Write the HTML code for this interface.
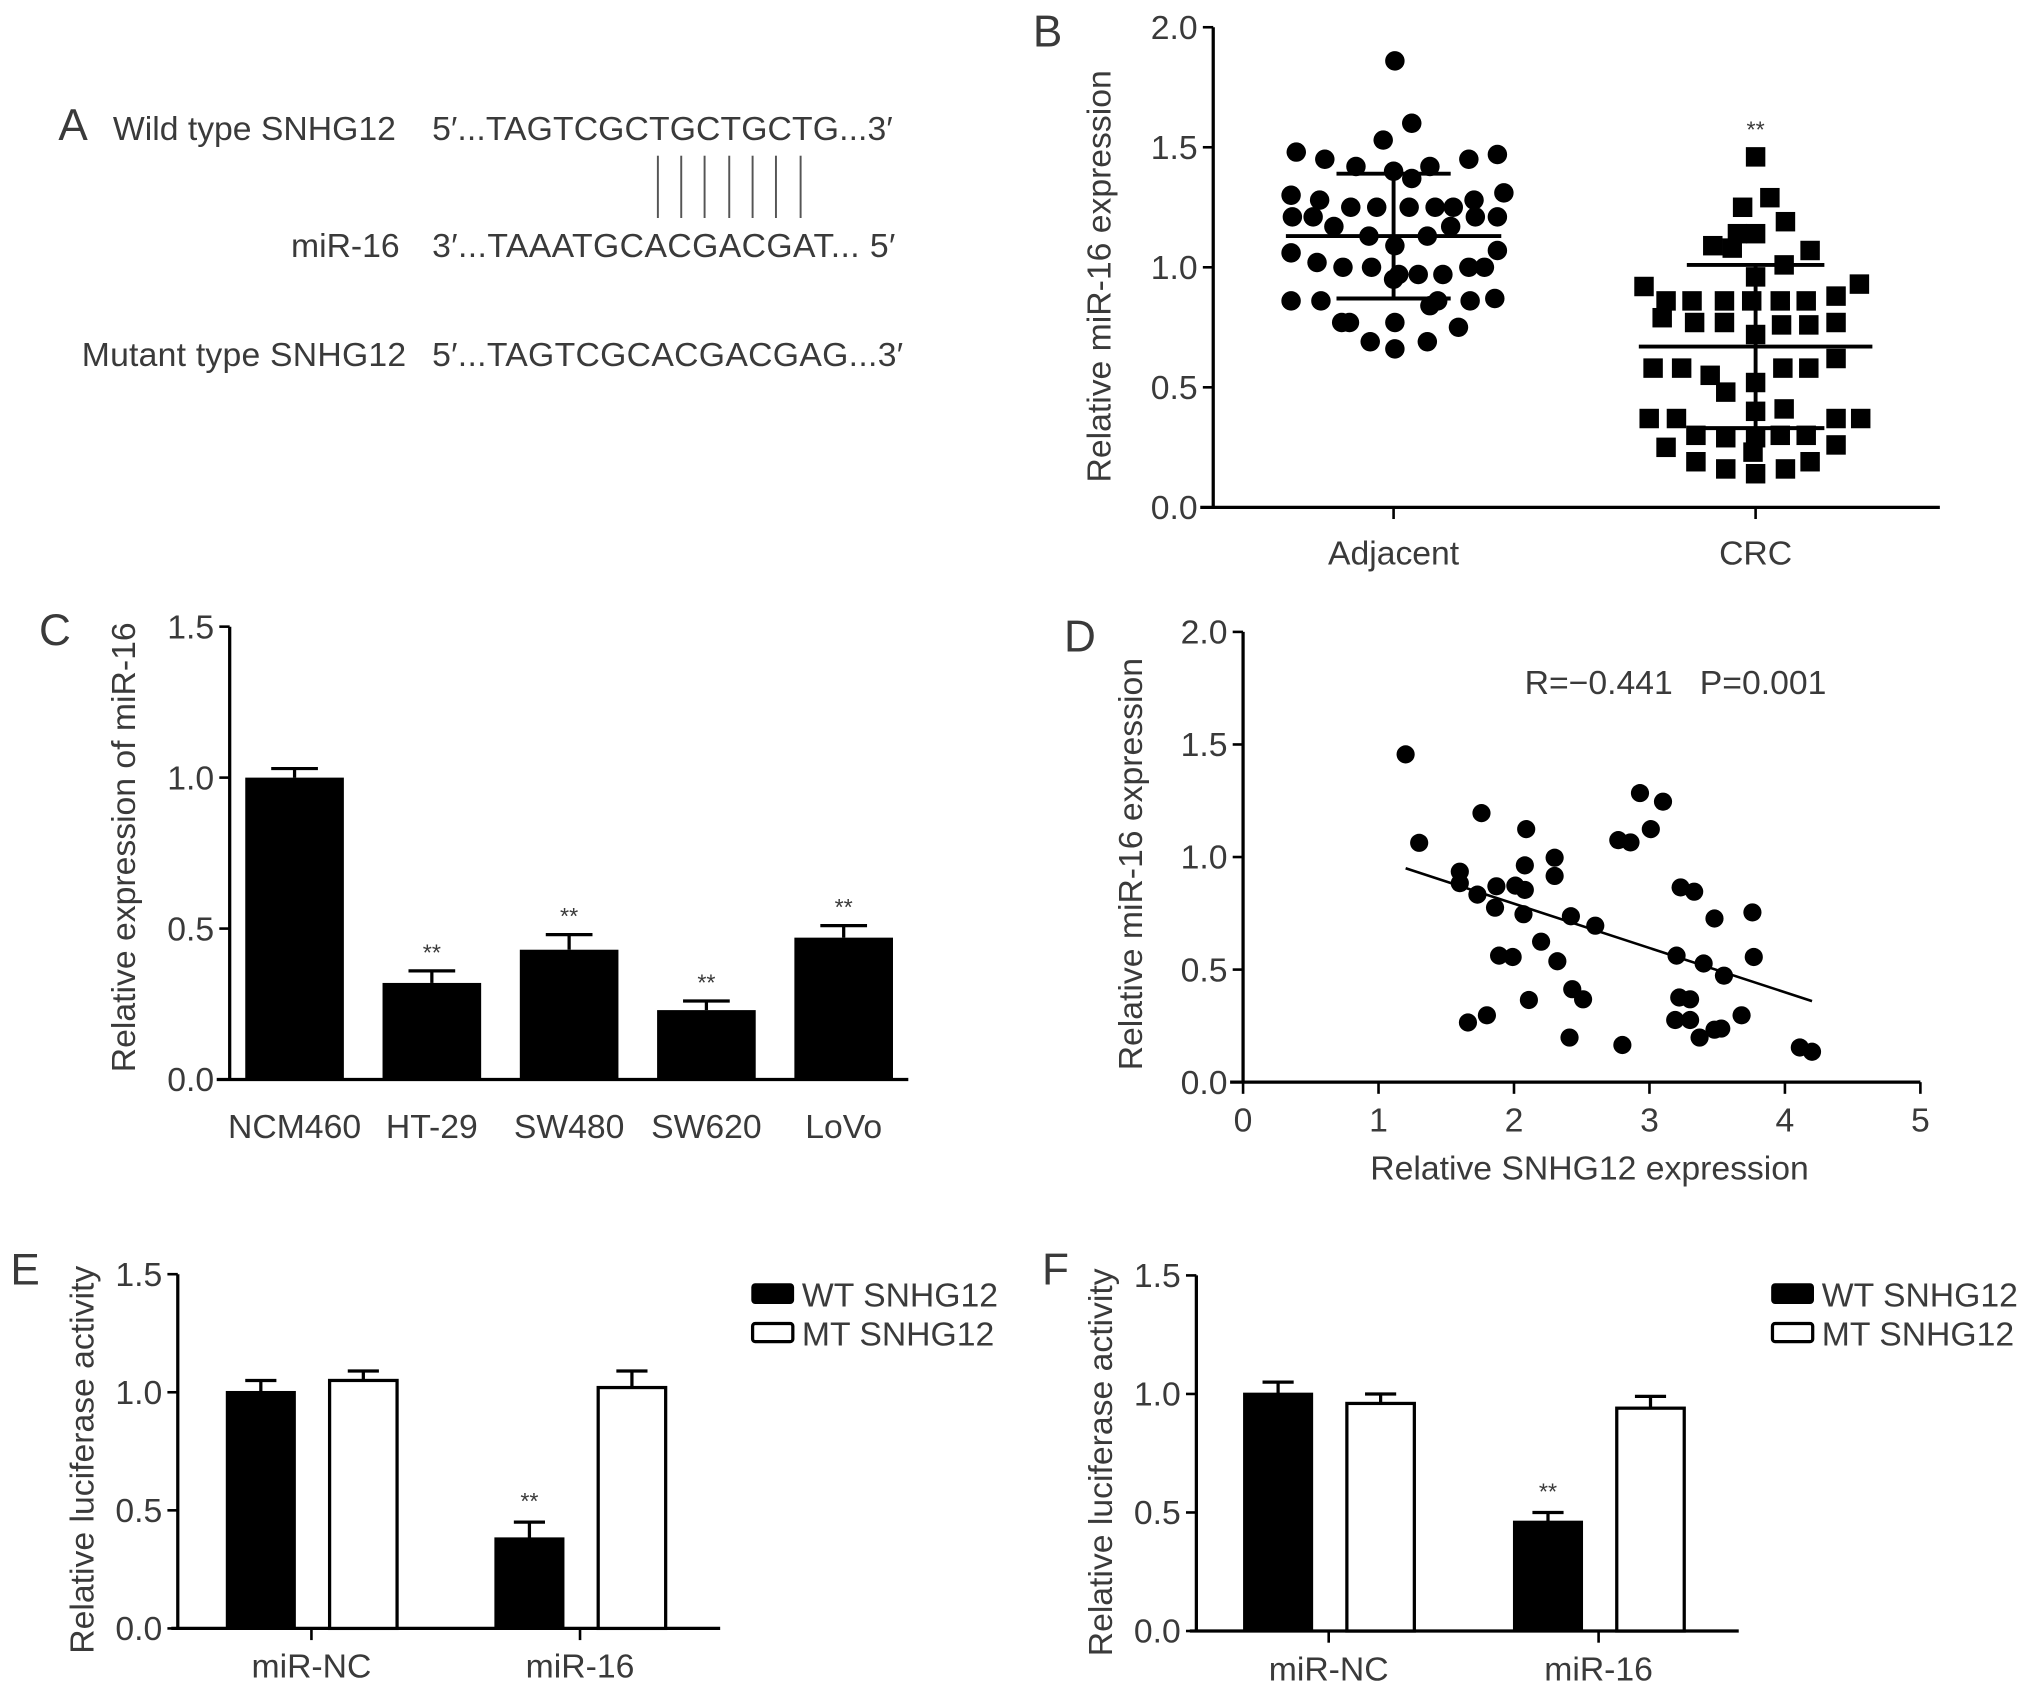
<!DOCTYPE html>
<html><head><meta charset="utf-8"><style>
html,body{margin:0;padding:0;background:#fff;}
svg{display:block;}
text{font-family:"Liberation Sans",sans-serif;fill:#3a3a3a;}
</style></head><body>
<svg id="fig" xmlns="http://www.w3.org/2000/svg" width="2032" height="1692" viewBox="0 0 1566 1304">
<rect width="1566" height="1304" fill="#fff"/>
<!-- Panel A -->
<g font-size="26">
<text x="45" y="108" font-size="34">A</text>
<text x="87" y="108">Wild type SNHG12</text>
<text x="333" y="108" textLength="355">5′...TAGTCGCTGCTGCTG...3′</text>
<g stroke="#555" stroke-width="1.5">
<line x1="507" y1="120" x2="507" y2="168"/><line x1="525" y1="120" x2="525" y2="168"/><line x1="543" y1="120" x2="543" y2="168"/><line x1="562" y1="120" x2="562" y2="168"/><line x1="580" y1="120" x2="580" y2="168"/><line x1="598" y1="120" x2="598" y2="168"/><line x1="617" y1="120" x2="617" y2="168"/>
</g>
<text x="308" y="198" text-anchor="end">miR-16</text>
<text x="333" y="198" textLength="357">3′...TAAATGCACGACGAT... 5′</text>
<text x="63" y="282" textLength="250">Mutant type SNHG12</text>
<text x="333" y="282" textLength="363">5′...TAGTCGCACGACGAG...3′</text>
</g>
<!-- static labels -->
<text x="796" y="36" font-size="34">B</text>
<text x="30" y="497" font-size="34">C</text>
<text x="820" y="502" font-size="34">D</text>
<text x="8" y="990" font-size="34">E</text>
<text x="803" y="990" font-size="34">F</text>
<text transform="translate(856,213) rotate(-90)" text-anchor="middle" font-size="26">Relative miR-16 expression</text>
<text transform="translate(104,653) rotate(-90)" text-anchor="middle" font-size="26">Relative expression of miR-16</text>
<text transform="translate(880,666) rotate(-90)" text-anchor="middle" font-size="26">Relative miR-16 expression</text>
<text x="1225" y="909" text-anchor="middle" font-size="26">Relative SNHG12 expression</text>
<text x="1175" y="535" font-size="26">R=−0.441</text>
<text x="1310" y="535" font-size="26">P=0.001</text>
<text transform="translate(72,1125) rotate(-90)" text-anchor="middle" font-size="26">Relative luciferase activity</text>
<text transform="translate(857,1127) rotate(-90)" text-anchor="middle" font-size="26">Relative luciferase activity</text>
<g id="dyn"></g>
</svg>
<script>
// ---- data ----
const bAdjValues=[1.86,1.60,1.53,1.48,1.47,1.45,1.45,1.42,1.42,1.40,1.37,1.30,1.31,1.28,1.28,1.25,1.25,1.25,1.25,1.25,1.21,1.21,1.21,1.21,1.17,1.17,1.13,1.13,1.09,1.06,1.07,1.02,1.00,1.00,1.00,1.00,0.97,0.97,0.97,0.95,0.86,0.86,0.86,0.86,0.87,0.84,0.77,0.77,0.77,0.75,0.69,0.69,0.66];
const bAdjJitter=[1,14,-8,-75,80,-53,58,-29,28,0,14,-79,85,-57,62,-33,-13,12,32,46,-78,80,-62,63,-46,44,-19,26,1,-79,80,-59,-39,-17,58,70,4,19,38,0,-79,-56,34,59,78,28,-40,-34,1,50,-18,26,1];
const bCrcValues=[1.46,1.29,1.25,1.19,1.14,1.14,1.09,1.08,1.07,1.01,0.96,0.92,0.93,0.88,0.86,0.86,0.86,0.86,0.86,0.86,0.79,0.77,0.77,0.76,0.76,0.77,0.72,0.62,0.58,0.58,0.58,0.58,0.55,0.52,0.48,0.40,0.41,0.37,0.37,0.37,0.37,0.30,0.29,0.29,0.30,0.30,0.25,0.26,0.19,0.16,0.14,0.16,0.19,0.23];
const bCrcJitter=[0,11,-10,23,-14,0,-33,-18,42,22,0,-86,80,62,-69,-49,-24,-3,19,39,-72,-47,-24,20,41,62,0,62,-79,-57,21,41,-35,0,-23,0,22,-82,-61,62,81,-46,-23,0,19,39,-69,62,-46,-23,0,23,42,-2];
const bMeans=[1.13,0.67];
const bSD=[0.26,0.34];
const cCategories=['NCM460','HT-29','SW480','SW620','LoVo'];
const cValues=[1.00,0.32,0.43,0.23,0.47];
const cErrors=[0.03,0.04,0.05,0.03,0.04];
const cSig=['','**','**','**','**'];
const dX=[1.20,1.30,1.76,2.09,1.60,1.60,1.73,1.87,1.86,2.01,2.08,2.08,2.07,2.30,2.30,2.42,2.60,2.20,2.32,1.89,1.99,2.11,2.43,2.51,1.66,1.80,2.41,2.80,2.77,2.86,2.93,3.10,3.01,3.23,3.33,3.48,3.76,3.20,3.40,3.55,3.77,3.22,3.30,3.19,3.30,3.68,3.37,3.48,3.53,4.11,4.20];
const dY=[1.456,1.063,1.195,1.124,0.935,0.884,0.833,0.870,0.775,0.873,0.854,0.963,0.746,0.997,0.916,0.737,0.695,0.624,0.537,0.562,0.556,0.365,0.413,0.368,0.265,0.297,0.198,0.165,1.075,1.065,1.284,1.246,1.124,0.865,0.846,0.727,0.754,0.562,0.527,0.473,0.556,0.376,0.368,0.276,0.276,0.297,0.198,0.233,0.238,0.154,0.135];
const dFit=[[1.2,0.95],[4.2,0.36]];
const lucGroups=['miR-NC','miR-16'];
const eWT=[1.00,0.38], eWTerr=[0.05,0.07], eMT=[1.05,1.02], eMTerr=[0.04,0.07];
const fWT=[1.00,0.46], fWTerr=[0.05,0.04], fMT=[0.96,0.94], fMTerr=[0.04,0.05];
const yTicks15=[0,0.5,1.0,1.5];
const yTicks20=[0,0.5,1.0,1.5,2.0];
const dXTicks=[0,1,2,3,4,5];

const NS='http://www.w3.org/2000/svg';
const root=document.getElementById('dyn');
function mk(tag,attrs,txt){const e=document.createElementNS(NS,tag);for(const k in attrs)e.setAttribute(k,attrs[k]);if(txt!==undefined)e.textContent=txt;root.appendChild(e);return e;}

function yAxis(x,y0,y1,scale,ticks,prefix){
  let a=mk('line',{x1:x,y1:y0,x2:x,y2:y1,stroke:'#000','stroke-width':2.5});
  
  
  ticks.forEach(t=>{
    const y=scale(t);
    let tk=mk('line',{x1:x-8,y1:y,x2:x,y2:y,stroke:'#000','stroke-width':2});
    
    
    let lb=mk('text',{x:x-12,y:y+9,'text-anchor':'end','font-size':26},t.toFixed(1));
    
    
  });
}
function xAxis(x0,x1,y,prefix){
  let a=mk('line',{x1:x0,y1:y,x2:x1,y2:y,stroke:'#000','stroke-width':2.5});
  
  
}
function errBar(cx,yTop,yErr,hw,prefix){
  let l=mk('line',{x1:cx,y1:yTop,x2:cx,y2:yErr,stroke:'#000','stroke-width':2.5});
  
  
  let c=mk('line',{x1:cx-hw,y1:yErr,x2:cx+hw,y2:yErr,stroke:'#000','stroke-width':2.5});
  
  
}

// ---- Panel B ----
const yB=v=>391-v*185;
yAxis(935,391,21,yB,yTicks20,'b');
xAxis(925,1495,391,'b');
const bCenters=[1074,1353];
['Adjacent','CRC'].forEach((c,i)=>{
  let t=mk('line',{x1:bCenters[i],y1:391,x2:bCenters[i],y2:400,stroke:'#000','stroke-width':2});
  
  
  let l=mk('text',{x:bCenters[i],y:435,'text-anchor':'middle','font-size':26},c);
  
  
});
bAdjValues.forEach((v,i)=>{
  let p=mk('circle',{cx:bCenters[0]+bAdjJitter[i],cy:yB(v),r:7.5,fill:'#000'});
  
  
});
bCrcValues.forEach((v,i)=>{
  let p=mk('rect',{x:bCenters[1]+bCrcJitter[i]-7.5,y:yB(v)-7.5,width:15,height:15,fill:'#000'});
  
  
});
const bMeanHW=[83,90], bCapHW=[44,53];
bMeans.forEach((m,i)=>{
  const cx=bCenters[i];
  let ml=mk('line',{x1:cx-bMeanHW[i],y1:yB(m),x2:cx+bMeanHW[i],y2:yB(m),stroke:'#000','stroke-width':3});
  
  
  let sl=mk('line',{x1:cx,y1:yB(m+bSD[i]),x2:cx,y2:yB(m-bSD[i]),stroke:'#000','stroke-width':3});
  
  
  [m+bSD[i],m-bSD[i]].forEach(v=>{
    let cp=mk('line',{x1:cx-bCapHW[i],y1:yB(v),x2:cx+bCapHW[i],y2:yB(v),stroke:'#000','stroke-width':3});
    
    
  });
});
let bs=mk('text',{x:1353,y:106,'text-anchor':'middle','font-size':18},'**');



// ---- Panel C ----
const yC=v=>832-v*232.7;
yAxis(177,832,483,yC,yTicks15,'c');
xAxis(167,700,832,'c');
const cX=i=>227+i*105.8;
cCategories.forEach((c,i)=>{
  const cx=cX(i);
  let b=mk('rect',{x:cx-38,y:yC(cValues[i]),width:76,height:832-yC(cValues[i]),fill:'#000'});
  
  
  errBar(cx,yC(cValues[i]),yC(cValues[i]+cErrors[i]),18,'c');
  let l=mk('text',{x:cx,y:877,'text-anchor':'middle','font-size':26},c);
  
  
  if(cSig[i]){
    let s=mk('text',{x:cx,y:yC(cValues[i]+cErrors[i])-8,'text-anchor':'middle','font-size':18},cSig[i]);
    
    
  }
});

// ---- Panel D ----
const yD=v=>834-v*173.5;
const xD=v=>958+v*104.4;
yAxis(958,834,487,yD,yTicks20,'d');
xAxis(948,1480,834,'d');
dXTicks.forEach(t=>{
  let tk=mk('line',{x1:xD(t),y1:834,x2:xD(t),y2:843,stroke:'#000','stroke-width':2});
  
  
  let lb=mk('text',{x:xD(t),y:872,'text-anchor':'middle','font-size':26},String(t));
  
  
});
dX.forEach((x,i)=>{
  let p=mk('circle',{cx:xD(x),cy:yD(dY[i]),r:7,fill:'#000'});
  
  
});
let fit=mk('line',{x1:xD(dFit[0][0]),y1:yD(dFit[0][1]),x2:xD(dFit[1][0]),y2:yD(dFit[1][1]),stroke:'#000','stroke-width':2});



// ---- Panels E & F ----
function lucPanel(p,ax,y0,ppu,axEnd,wt,wtE,mt,mtE,groupX,legX){
  const y=v=>y0-v*ppu;
  yAxis(ax,y0,y0-1.5*ppu,y,yTicks15,p);
  xAxis(ax-5,axEnd,y0,p);
  lucGroups.forEach((g,i)=>{
    const gx=groupX[i];
    let t=mk('line',{x1:gx,y1:y0,x2:gx,y2:y0+9,stroke:'#000','stroke-width':2});
    
    
    let l=mk('text',{x:gx,y:y0+38,'text-anchor':'middle','font-size':26},g);
    
    
    const wx=gx-39, mx=gx+40;
    let b1=mk('rect',{x:wx-26,y:y(wt[i]),width:52,height:y0-y(wt[i]),fill:'#000',stroke:'#000','stroke-width':2});
    
    
    errBar(wx,y(wt[i]),y(wt[i]+wtE[i]),12,p);
    let b2=mk('rect',{x:mx-26,y:y(mt[i]),width:52,height:y0-y(mt[i]),fill:'#fff',stroke:'#000','stroke-width':2.5});
    
    
    errBar(mx,y(mt[i]),y(mt[i]+mtE[i]),12,p);
    if(i===1){
      let s=mk('text',{x:wx,y:y(wt[i]+wtE[i])-10,'text-anchor':'middle','font-size':18},'**');
      
      
    }
  });
  let k1=mk('rect',{x:legX,y:990,width:31,height:14,fill:'#000',stroke:'#000','stroke-width':2,rx:2});
  
  
  let t1=mk('text',{x:legX+38,y:1007,'font-size':26},'WT SNHG12');
  
  
  let k2=mk('rect',{x:legX,y:1020,width:31,height:14,fill:'#fff',stroke:'#000','stroke-width':2.5,rx:2});
  
  
  let t2=mk('text',{x:legX+38,y:1037,'font-size':26},'MT SNHG12');
  
  
}
lucPanel('e',137,1255,182,555,eWT,eWTerr,eMT,eMTerr,[240,447],580);
lucPanel('f',922,1257,182.7,1340,fWT,fWTerr,fMT,fMTerr,[1024,1232],1366);
</script>
</body></html>
